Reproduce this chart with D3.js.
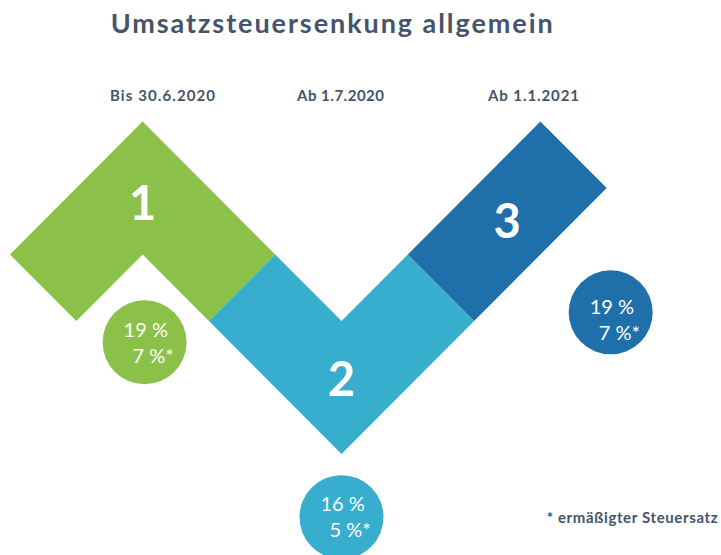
<!DOCTYPE html>
<html>
<head>
<meta charset="utf-8">
<script src="https://cdn.jsdelivr.net/npm/d3@7"></script>
<style>
  html, body { margin: 0; padding: 0; background: #ffffff; }
  svg { display: block; }
</style>
</head>
<body>
<svg id="chart" width="721" height="555"></svg>
<script>
// ---- data ----
const title = "Umsatzsteuersenkung allgemein";
const steps = ["1", "2", "3"];
const dates = ["Bis 30.6.2020", "Ab 1.7.2020", "Ab 1.1.2021"];
const standardRates = ["19 %", "16 %", "19 %"];
const reducedRates = ["7 %*", "5 %*", "7 %*"];
const footnote = "* ermäßigter Steuersatz";

// ---- style / layout (kept separate from data) ----
const colors = ["#8bc148", "#37aecd", "#1f70aa"];
const textColor = "#44546a";
// shapes on a 45° lattice (column, row)
const shapes = [
  [[2,0],[4,2],[3,3],[2,2],[1,3],[0,2]],
  [[4,2],[5,3],[6,2],[7,3],[5,5],[3,3]],
  [[6,2],[8,0],[9,1],[7,3]]
];
const numberPos = [[2, 1.23], [5, 3.87], [7.5, 1.5]];
const circlePos = [[2.03, 3.32], [5.0, 5.95], [9.06, 2.87]];
const circleTextDy = [-5.5, -6, 1.3];
const datePosX = [110, 297, 488];
const dateWidths = [105, 87, 91];

const svg = d3.select("#chart");
const x = d3.scaleLinear().domain([0, 9]).range([10, 606.7]);
const y = d3.scaleLinear().domain([0, 5]).range([121.5, 454]);
const line = d3.line().x(d => x(d[0])).y(d => y(d[1]));
const font = "Lato, 'Open Sans', sans-serif";

// title
svg.append("text")
  .attr("x", 331.7).attr("y", 33.3)
  .attr("text-anchor", "middle")
  .attr("textLength", 442).attr("lengthAdjust", "spacing")
  .style("font-family", font)
  .style("font-weight", 700).style("font-size", "27px")
  .style("fill", textColor)
  .text(title);

// date headers
svg.selectAll("text.date").data(dates).enter().append("text")
  .attr("class", "date")
  .attr("x", (d, i) => datePosX[i]).attr("y", 100.8)
  .attr("textLength", (d, i) => dateWidths[i]).attr("lengthAdjust", "spacing")
  .style("font-family", font)
  .style("font-weight", 700).style("font-size", "15px")
  .style("fill", textColor)
  .text(d => d);

// shapes
svg.selectAll("path.shape").data(shapes).enter().append("path")
  .attr("class", "shape")
  .attr("d", d => line(d) + "Z")
  .attr("fill", (d, i) => colors[i]);

// step numbers
svg.selectAll("text.num").data(steps).enter().append("text")
  .attr("class", "num")
  .attr("x", (d, i) => x(numberPos[i][0]))
  .attr("y", (d, i) => y(numberPos[i][1]) + 17)
  .attr("text-anchor", "middle")
  .style("font-family", font)
  .style("font-weight", 700).style("font-size", "47px")
  .style("fill", "#ffffff")
  .text(d => d);

// rate circles
const r = 42;
const g = svg.selectAll("g.rate").data(steps).enter().append("g")
  .attr("class", "rate")
  .attr("transform", (d, i) => `translate(${x(circlePos[i][0])},${y(circlePos[i][1])})`);
g.append("circle").attr("r", r).attr("fill", (d, i) => colors[i]);
g.append("text")
  .attr("x", -21).attr("y", (d, i) => circleTextDy[i])
  .style("font-family", font)
  .style("font-size", "20px").style("fill", "#ffffff")
  .text((d, i) => standardRates[i]);
g.append("text")
  .attr("x", -12).attr("y", (d, i) => circleTextDy[i] + 26)
  .style("font-family", font)
  .style("font-size", "20px").style("fill", "#ffffff")
  .text((d, i) => reducedRates[i]);

// footnote
svg.append("text")
  .attr("x", 546.7).attr("y", 523.3)
  .attr("textLength", 171).attr("lengthAdjust", "spacing")
  .style("font-family", font)
  .style("font-weight", 700).style("font-size", "15px")
  .style("fill", textColor)
  .text(footnote);
</script>
</body>
</html>
